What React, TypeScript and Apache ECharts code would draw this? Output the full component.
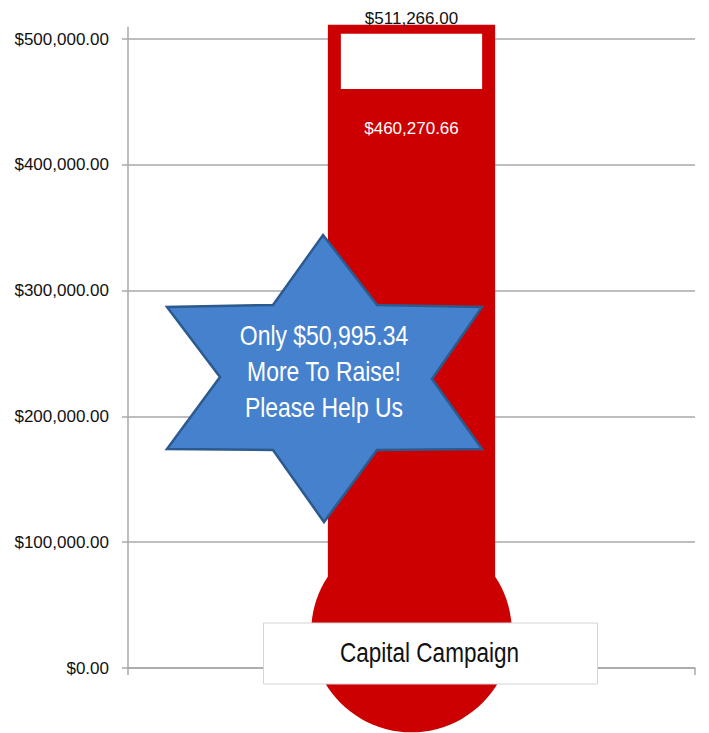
import React, { useEffect, useRef } from "react";
import * as echarts from "echarts";

const CATEGORIES = ["Capital Campaign"];
const GOAL = [511266.0];
const RAISED = [460270.66];
const Y_TICK_VALUES = [0, 100000, 200000, 300000, 400000, 500000];
const Y_TICK_LABELS = ["$0.00", "$100,000.00", "$200,000.00", "$300,000.00", "$400,000.00", "$500,000.00"];
const STAR_LINES = ["Only $50,995.34", "More To Raise!", "Please Help Us"];

const RED = "#cc0000";
const GRID_GRAY = "#a8a8a8";
const SANS = "'Liberation Sans', Arial, sans-serif";

const money = (v: number) =>
  "$" + v.toLocaleString("en-US", { minimumFractionDigits: 2, maximumFractionDigits: 2 });

export default function App() {
  const ref = useRef<HTMLDivElement>(null);
  useEffect(() => {
    if (!ref.current) return;
    const chart = echarts.init(ref.current, undefined, { renderer: "svg" });
    const starPts = [
      [323, 235], [377, 305], [482, 307], [432, 379], [482, 449], [377, 450],
      [324, 522], [273, 450], [167, 449], [220, 377], [167, 307], [273, 305],
    ];
    const option: any = {
      animation: false,
      backgroundColor: "#ffffff",
      grid: { left: 128, right: 14, top: 39, bottom: 65, containLabel: false, outerBoundsMode: "none" },
      xAxis: {
        type: "category",
        data: CATEGORIES,
        boundaryGap: true,
        axisLine: { show: true, lineStyle: { color: GRID_GRAY, width: 1.5 } },
        axisTick: { show: true, length: 7, lineStyle: { color: GRID_GRAY, width: 1.5 } },
        axisLabel: { show: false },
        splitLine: { show: false },
      },
      yAxis: {
        type: "value",
        min: 0,
        max: 500000,
        interval: 100000,
        axisLine: { show: true, lineStyle: { color: GRID_GRAY, width: 1.5 } },
        axisTick: { show: true, length: 6, lineStyle: { color: GRID_GRAY, width: 1.5 } },
        splitLine: { show: true, lineStyle: { color: GRID_GRAY, width: 1.5 } },
        axisLabel: {
          margin: 19,
          color: "#111",
          fontFamily: SANS,
          fontSize: 17,
          formatter: (v: number) => {
            const i = Y_TICK_VALUES.indexOf(v);
            return i >= 0 ? Y_TICK_LABELS[i] : "";
          },
        },
      },
      series: [
        {
          type: "custom",
          clip: false,
          data: CATEGORIES.map((_, i) => [i, GOAL[i], RAISED[i]]),
          renderItem: (params: any, api: any) => {
            const idx = api.value(0);
            const goal = api.value(1);
            const raised = api.value(2);
            const base = api.coord([idx, 0]);
            const top = api.coord([idx, goal]);
            const mid = api.coord([idx, raised]);
            const tick500 = api.coord([idx, Y_TICK_VALUES[Y_TICK_VALUES.length - 1]]);
            const band = api.size([1, 0])[0];
            const w = band * 0.295;
            const cx = base[0];
            const left = cx - band / 2;
            return {
              type: "group",
              children: [
                {
                  type: "line",
                  shape: { x1: left, y1: top[1] + 2, x2: left, y2: tick500[1] },
                  style: { stroke: GRID_GRAY, lineWidth: 1.5 },
                },
                {
                  type: "rect",
                  shape: { x: cx - w / 2, y: top[1], width: w, height: base[1] - top[1] },
                  style: { fill: RED },
                },
                {
                  type: "circle",
                  shape: { cx: cx, cy: base[1] - 36, r: w * 0.6 },
                  style: { fill: RED },
                },
                {
                  type: "rect",
                  shape: { x: cx - w / 2 + 13, y: top[1] + 9, width: w - 26, height: mid[1] - top[1] - 9 },
                  style: { fill: "#ffffff" },
                },
                {
                  type: "text",
                  x: cx,
                  y: top[1] - 6,
                  style: {
                    text: money(goal),
                    fill: "#111",
                    fontFamily: SANS,
                    fontSize: 17,
                    align: "center",
                    verticalAlign: "middle",
                  },
                },
                {
                  type: "text",
                  x: cx,
                  y: mid[1] + 40,
                  style: {
                    text: money(raised),
                    fill: "#ffffff",
                    fontFamily: SANS,
                    fontSize: 17,
                    align: "center",
                    verticalAlign: "middle",
                  },
                },
                {
                  type: "rect",
                  shape: { x: cx + 19 - 167, y: base[1] - 45, width: 334, height: 61 },
                  style: { fill: "#ffffff", stroke: "#d4d4d4", lineWidth: 1 },
                },
                {
                  type: "text",
                  x: cx + 18,
                  y: base[1] - 16,
                  scaleX: 0.82,
                  style: {
                    text: CATEGORIES[idx],
                    fill: "#111",
                    fontFamily: SANS,
                    fontSize: 27.5,
                    align: "center",
                    verticalAlign: "middle",
                  },
                },
              ],
            };
          },
        },
      ],
      graphic: [
        {
          type: "polygon",
          z: 100,
          shape: { points: starPts },
          style: { fill: "#4681cd", stroke: "#2c5a8f", lineWidth: 2.5 },
        },
        ...STAR_LINES.map((t, i) => ({
          type: "text",
          z: 101,
          x: 324,
          y: 335 + i * 36,
          scaleX: 0.82,
          style: {
            text: t,
            fill: "#ffffff",
            fontFamily: SANS,
            fontSize: 28,
            align: "center",
            verticalAlign: "middle",
          },
        })),
      ],
    };
    chart.setOption(option);
    return () => chart.dispose();
  }, []);
  return (
    <div
      ref={ref}
      style={{ position: "fixed", left: 0, top: 0, width: 709, height: 733 }}
    />
  );
}
